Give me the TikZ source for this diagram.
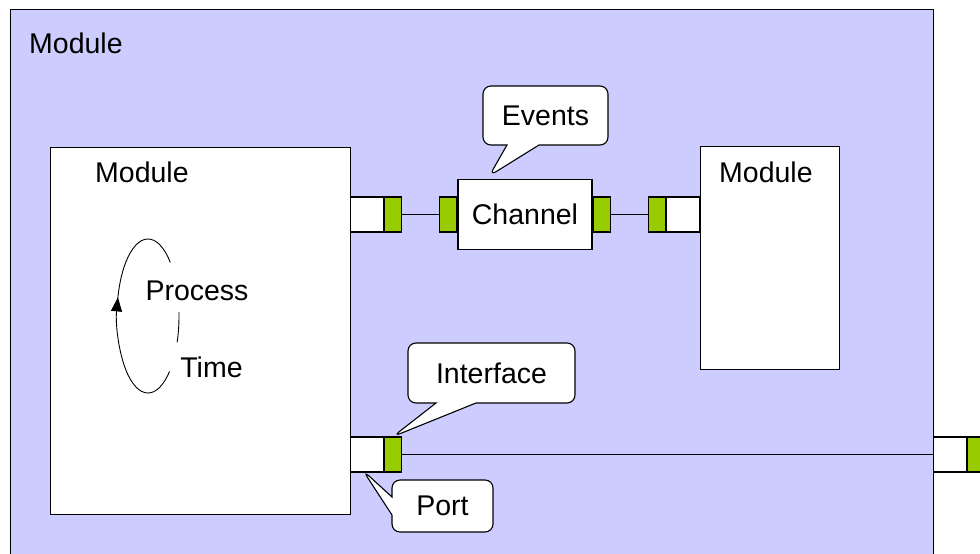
\documentclass[tikz,border=0pt]{standalone}
\usepackage{fontspec}
\setmainfont{Liberation Sans}
\usetikzlibrary{calc,positioning,shapes.callouts,arrows.meta}
\definecolor{modfill}{HTML}{CCCCFF}
\definecolor{ifgreen}{HTML}{99CC00}

\begin{document}
\begin{tikzpicture}[
                x=1pt, y=-1pt,
                every node/.append style={font=\fontsize{28.5}{34}\selectfont, inner sep=0pt},
                modbox/.style={draw, line width=1.3pt, fill=white, anchor=north west},
                portbox/.style={draw, line width=1.1pt, fill=white, minimum width=33pt, minimum height=35pt},
                ifbox/.style={draw, line width=1.1pt, fill=ifgreen, minimum width=17pt, minimum height=35pt},
                note/.style={rectangle callout, draw, fill=white, line width=1.1pt, rounded corners=8pt},
                wire/.style={line width=1.8pt},
                loop/.style={line width=0.9pt}
            ]
                \clip (0,0) rectangle (980,554);
                % outer module
                \node[modbox, fill=modfill, minimum width=923pt, minimum height=570pt] (outer) at (10,9) {};
                \node[anchor=west] (outerlbl) at (29,43) {Module};
                % inner modules
                \node[modbox, minimum width=300pt, minimum height=367pt] (modA) at (50,147) {};
                \node[anchor=west] (modAlbl) at (95,172) {Module};
                \node[modbox, minimum width=139pt, minimum height=223pt] (modB) at (700,146) {};
                \node[anchor=west] (modBlbl) at (719,172) {Module};
                % channel
                \node[draw, fill=white, line width=1.3pt, minimum width=134pt, minimum height=70pt] (chan) at (525,214.5) {Channel};
                % ports and interfaces
                \node[portbox, anchor=west] (pA1) at (350,214.5) {};
                \node[ifbox, right=0pt of pA1] (iA1) {};
                \node[ifbox, left=0pt of chan] (iC1) {};
                \node[ifbox, right=0pt of chan] (iC2) {};
                \node[portbox, anchor=east] (pB1) at (700,214.5) {};
                \node[ifbox, left=0pt of pB1] (iB1) {};
                \node[portbox, anchor=west] (pA2) at (350,454.5) {};
                \node[ifbox, right=0pt of pA2] (iA2) {};
                \node[portbox, anchor=west] (pO) at (933,454.5) {};
                \node[ifbox, right=0pt of pO] (iO) {};
                \draw[wire] (iA1) -- (iC1);
                \draw[wire] (iC2) -- (iB1);
                \draw[wire] (iA2) -- (pO);
                % callouts
                \node[note, minimum width=125pt, minimum height=59pt, callout pointer width=32pt,
                      callout absolute pointer={($(chan.north west)+(32,-3)$)}] (events) at (545.5,115.5) {Events};
                \node[note, minimum width=167pt, minimum height=60pt, callout pointer width=40pt,
                      callout absolute pointer={(iA2.north)}] (iface) at (491.5,373) {Interface};
                \node[note, minimum width=101pt, minimum height=52pt, callout pointer width=18pt,
                      callout absolute pointer={($(pA2.south)+(-4,-2)$)}] (port) at (442.5,506) {Port};
                % process loop
                \node (proc) at (197,291) {Process};
                \node (time) at (211.5,367) {Time};
                \draw[loop, -{Triangle[width=11pt,length=14pt]}] (148,316) ++(46:31 and 77) arc[start angle=46, end angle=194, x radius=31, y radius=77];
                \draw[loop] (148,316) ++(190:31 and 77) arc[start angle=190, end angle=316, x radius=31, y radius=77];
                \draw[loop] (148,316) ++(-3:31 and 77) arc[start angle=-3, end angle=20, x radius=31, y radius=77];
            \end{tikzpicture}
\end{document}
